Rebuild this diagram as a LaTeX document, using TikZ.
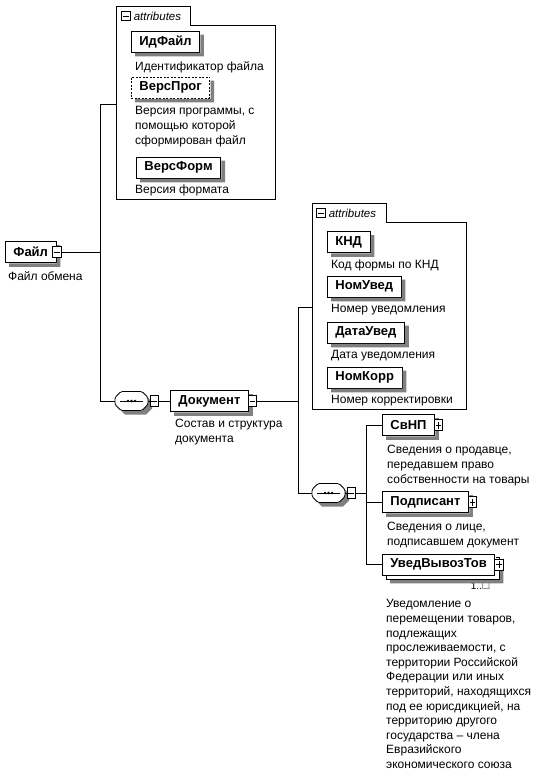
\documentclass[tikz,border=0pt]{standalone}
\usepackage{fontspec}
\setmainfont{Liberation Sans}
\usepackage{amssymb}
\usetikzlibrary{positioning}
\tikzset{
  shadowc/.style={fill=black!50,draw=none},
  elem/.style={draw,line width=0.8pt,fill=white,anchor=west,
    font=\fontsize{13}{15}\selectfont\bfseries,
    minimum height=21pt,inner xsep=8pt,inner ysep=0pt},
  optelem/.style={elem,dash pattern=on 2pt off 1.5pt},
  desc/.style={font=\fontsize{12}{15}\selectfont,align=left,anchor=north west,inner sep=0pt},
  longdesc/.style={desc,font=\fontsize{12}{14.6}\selectfont},
  card/.style={font=\fontsize{10}{12}\selectfont,anchor=east,inner sep=0pt},
  signbox/.style={draw,line width=0.7pt,fill=white,minimum width=8.5pt,minimum height=11pt,inner sep=0pt},
  minusicon/.style={signbox,path picture={
    \draw[line width=0.7pt] ([xshift=1.5pt]path picture bounding box.west)--([xshift=-1.5pt]path picture bounding box.east);}},
  plusicon/.style={signbox,path picture={
    \draw[line width=0.7pt] ([xshift=1.5pt]path picture bounding box.west)--([xshift=-1.5pt]path picture bounding box.east);
    \draw[line width=0.7pt] ([yshift=2pt]path picture bounding box.south)--([yshift=-2pt]path picture bounding box.north);}},
  tabicon/.style={minusicon,minimum height=8.5pt},
  tabtxt/.style={font=\fontsize{11.5}{12}\selectfont\itshape,inner sep=0pt},
  attrgrp/.style={draw,line width=0.8pt},
  seqbox/.style={rectangle,minimum width=33pt,minimum height=19pt,inner sep=0pt,outer sep=0pt},
  seqline/.style={draw,line width=0.8pt,fill=white,rounded corners=1.5pt},
  conn/.style={line width=0.8pt},
}
\begin{document}
\begin{tikzpicture}[x=1pt,y=-1pt]
  \useasboundingbox (0,0) rectangle (537,784);
  % root element
  \node[elem] (fayl) at (5,252) {Файл};
  \node[desc] at (8,271.5) {Файл обмена};
  \coordinate (sp1) at (100,0);

  % attributes of Файл
  \draw[attrgrp] (116,6) -- (190,6) -- (190,25) -- (275,25) -- (275,199) -- (116,199) -- cycle;
  \node[tabicon] (grpAm) at (126,16) {};
  \node[tabtxt,right=3pt of grpAm] {attributes};
  \node[elem] (idfayl) at (131,41.5) {ИдФайл};
  \node[desc] at (135,61.5) {Идентификатор файла};
  \node[optelem] (versprog) at (131,87.5) {ВерсПрог};
  \node[desc] at (135,106.5) {Версия программы, с\\помощью которой\\сформирован файл};
  \node[elem] (versform) at (136,167.5) {ВерсФорм};
  \node[desc] at (135,184.5) {Версия формата};
  \coordinate (grpA) at (116,104);

  % sequence -> Документ
  \node[seqbox] (seq1) at (131.5,401) {};
  \node[elem] (dok) at (170,401) {Документ};
  \node[desc] at (175,419) {Состав и структура\\документа};
  \coordinate (sp2) at (298,0);

  % attributes of Документ
  \draw[attrgrp] (312,203) -- (386,203) -- (386,222) -- (466,222) -- (466,409) -- (312,409) -- cycle;
  \node[tabicon] (grpBm) at (321,213) {};
  \node[tabtxt,right=3pt of grpBm] {attributes};
  \foreach \nm/\lbl/\dsc/\yy in {knd/КНД/Код формы по КНД/242,
      nomuved/НомУвед/Номер уведомления/286.5,
      datauved/ДатаУвед/Дата уведомления/332.5,
      nomkorr/НомКорр/Номер корректировки/377.5}{
    \node[elem] (\nm) at (327,\yy) {\lbl};
    \node[desc] at (331,\yy+17.5) {\dsc};
  }
  \coordinate (grpB) at (312,307);

  % sequence -> children of Документ
  \node[seqbox] (seq2) at (328.5,493) {};
  \coordinate (sp3) at (366,0);
  \node[elem] (svnp) at (382,425) {СвНП};
  \node[desc] at (387,444.5) {Сведения о продавце,\\передавшем право\\собственности на товары};
  \node[elem] (podp) at (382,502) {Подписант};
  \node[desc] at (387,521.5) {Сведения о лице,\\подписавшем документ};
  \node[elem] (uved) at (382,564.5) {УведВывозТов};
  \node[card] (uvedc) at (490,586) {1..$\square$};
  \node[longdesc] at (386,599.5) {Уведомление о\\перемещении товаров,\\подлежащих\\прослеживаемости, с\\территории Российской\\Федерации или иных\\территорий, находящихся\\под ее юрисдикцией, на\\территорию другого\\государства -- члена\\Евразийского\\экономического союза};

  % shadows of the element boxes: an L-shaped band right and below
  \foreach \n in {fayl,idfayl,versprog,versform,dok,knd,nomuved,datauved,nomkorr,svnp,podp}{
    \fill[shadowc] (\n.north east) ++(0.4pt,-4pt) -- ++(3.6pt,0pt) |- ([shift={(4pt,-4pt)}]\n.south west)
      -- ++(0pt,3.6pt) -| cycle;
  }
  % repeated element: copy behind, then its shadow
  \fill[shadowc] (uved.north east) ++(4.4pt,-8pt) -- ++(3.6pt,0pt) |- ([shift={(8pt,-8pt)}]uved.south west)
    -- ++(0pt,3.6pt) -| cycle;
  \draw[line width=0.8pt] ([shift={(0.4pt,-4pt)}]uved.north east) -- ([shift={(4pt,-4pt)}]uved.north east)
    -- ([shift={(4pt,-4pt)}]uved.south east) -- ([shift={(4pt,-4pt)}]uved.south west)
    -- ([shift={(4pt,-0.4pt)}]uved.south west);

  % sequence compositors
  \foreach \s in {seq1,seq2}{
    \fill[shadowc] ([shift={(16.5pt,3.5pt)}]\s.center) -- ++(4pt,-4pt) -- ++(0pt,-7pt) -- ++(-6pt,-6pt)
      -- ++(-21pt,0pt) -- ++(-4pt,4pt) -- ++(21pt,0pt) -- ++(6pt,6pt) -- cycle;
    \path[seqline] ([shift={(-10.5pt,9.5pt)}]\s.center) -- ++(21pt,0pt) -- ++(6pt,-6pt) -- ++(0pt,-7pt)
      -- ++(-6pt,-6pt) -- ++(-21pt,0pt) -- ++(-6pt,6pt) -- ++(0pt,7pt) -- cycle;
    \draw[line width=0.7pt] ([xshift=5pt]\s.west) -- ([xshift=-5pt]\s.east);
    \foreach \dx in {-3.5,0,3.5}
      \fill ([xshift=\dx pt]\s.center) circle (1.4pt);
  }

  % expand / collapse icons
  \node[minusicon,right=-4pt of fayl] (faylm) {};
  \node[minusicon,right=1.5pt of seq1] (seq1m) {};
  \node[minusicon,right=-1pt of dok] (dokm) {};
  \node[minusicon,right=1.5pt of seq2] (seq2m) {};
  \node[plusicon,right=-1pt of svnp] (svnpp) {};
  \node[plusicon,right=-1pt of podp] (podpp) {};
  \node[plusicon,right=-1pt of uved] (uvedp) {};

  % connectors
  \draw[conn] (faylm.east) -- (faylm.east -| sp1);
  \draw[conn] (grpA) -- (grpA -| sp1) |- (seq1.west);
  \draw[conn] (seq1.east) -- (seq1m.west);
  \draw[conn] (seq1m.east) -- (dok.west);
  \draw[conn] (dokm.east) -- (dokm.east -| sp2);
  \draw[conn] (grpB) -- (grpB -| sp2) |- (seq2.west);
  \draw[conn] (seq2.east) -- (seq2m.west);
  \draw[conn] (seq2m.east) -- (seq2m.east -| sp3);
  \draw[conn] (svnp.west) -- (svnp.west -| sp3) |- (uved.west);
  \draw[conn] (podp.west) -- (podp.west -| sp3);
\end{tikzpicture}
\end{document}
